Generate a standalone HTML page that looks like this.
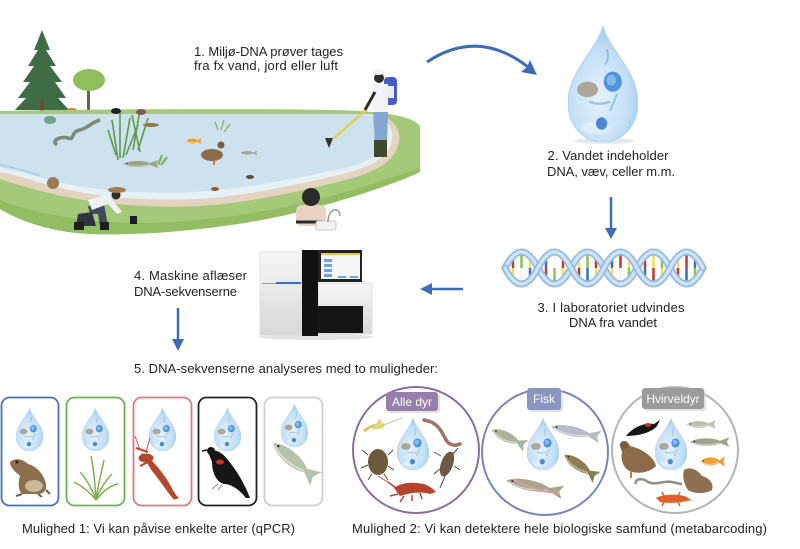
<!DOCTYPE html>
<html><head><meta charset="utf-8"><style>
html,body{margin:0;padding:0;background:#fff;}
svg{display:block;}
text{font-family:"Liberation Sans",sans-serif;fill:#222;}
</style></head><body>
<svg width="800" height="549" viewBox="0 0 800 549" xmlns="http://www.w3.org/2000/svg">
<defs>
<radialGradient id="dg" cx="0.45" cy="0.62" r="0.62"><stop offset="0" stop-color="#e4f2fc"/><stop offset="0.7" stop-color="#c2def5"/><stop offset="1" stop-color="#9ac6ec"/></radialGradient>
<linearGradient id="seqg" x1="0" y1="0" x2="0" y2="1"><stop offset="0" stop-color="#f6f6f6"/><stop offset="1" stop-color="#d8d8d8"/></linearGradient>
<symbol id="drop" viewBox="0 0 100 150" preserveAspectRatio="none">
<path d="M50,0 C56,28 100,58 100,100 A50,50 0 0 1 0,100 C0,58 44,28 50,0Z" fill="url(#dg)" stroke="#b5d6f0" stroke-width="2"/>
<ellipse cx="40" cy="132" rx="22" ry="8" fill="#fff" opacity="0.35"/>
<ellipse cx="28" cy="82" rx="15" ry="10" fill="#a89988" opacity="0.85"/>
<circle cx="64" cy="72" r="13" fill="#4f93dc"/>
<circle cx="62" cy="70" r="7" fill="#86b9ec"/>
<circle cx="48" cy="126" r="8" fill="#4a87d6"/>
<path d="M55,30 q5,10 -2,20 M30,98 q15,5 30,0 M70,88 q-5,12 -10,22" stroke="#7fb7cf" stroke-width="3" fill="none" opacity="0.7"/>
</symbol>
<symbol id="fish" viewBox="0 0 100 40" preserveAspectRatio="none">
<path d="M3,20 C18,5 55,4 74,16 L96,4 L90,20 L96,36 L74,24 C55,36 18,35 3,20Z"/>
<path d="M8,22 C25,32 55,30 72,22" stroke="#fff" stroke-width="3" fill="none" opacity="0.5"/>
<circle cx="13" cy="18" r="2" fill="#222"/>
</symbol>
</defs>

<!-- ===== POND SCENE ===== -->
<polygon points="42,30 50,50 46,50 56,66 50,66 62,82 55,82 66,98 58,98 69,110 15,110 26,98 18,98 30,82 23,82 34,66 28,66 38,50 34,50" fill="#3f6c44"/>
<rect x="40" y="100" width="4" height="12" fill="#6b4a33"/>
<rect x="87" y="86" width="3" height="24" fill="#7b5a3e"/>
<ellipse cx="89" cy="80" rx="16" ry="11" fill="#8fbe5c"/>
<ellipse cx="72" cy="110" rx="5" ry="2" fill="#d9783a"/>
<path d="M0,111 C100,109 300,108 360,111 C395,113 418,119 420,127 L420,172 C395,184 340,202 290,214 C230,228 150,236 90,234 C50,232 20,221 0,209 Z" fill="#a4c978"/>
<path d="M0,200 C40,215 100,226 170,222 C250,218 330,200 420,168 L420,172 C395,184 340,202 290,214 C230,228 150,236 90,234 C50,232 20,221 0,209 Z" fill="#93bd63"/>
<path d="M0,114 L372,114 C392,116 401,127 399,142 C396,160 378,172 345,180 C295,193 245,203 200,206 C130,209 70,200 30,188 C15,184 6,181 0,179 Z" fill="#e3d3c0"/>
<path d="M0,114 L366,114 C386,116 394,126 392,140 C390,156 374,166 343,174 C293,186 243,196 198,199 C130,202 75,194 35,181 C18,176 7,173 0,172 Z" fill="#e6f0f7"/>
<path d="M0,114 L360,114 C378,115 387,124 385,138 C383,154 368,163 340,169 C290,180 240,189 195,192 C130,195 80,189 40,177 C20,172 8,169 0,167 Z" fill="#cde1ef"/>
<path d="M0,165 C15,168 30,172 40,176" stroke="#a9cde6" stroke-width="1.5" fill="none"/>
<path d="M57,145 C50,140 62,136 68,138 C75,141 70,132 80,130 C88,128 92,122 100,120" stroke="#7d8a78" stroke-width="3.5" fill="none"/>
<ellipse cx="50" cy="120" rx="6" ry="4" fill="#6fa08a"/>
<g stroke="#5f9a4a" stroke-width="1.6" fill="none">
<path d="M118,160 L112,120 M120,158 L120,112 M123,158 L130,118 M126,155 L138,125 M133,150 L140,110 M138,150 L148,118 M140,152 L132,115 M116,155 L108,130"/>
</g>
<ellipse cx="116" cy="111" rx="5" ry="3" fill="#222"/>
<ellipse cx="141" cy="112" rx="5" ry="3" fill="#7a5a45"/>
<ellipse cx="151" cy="125" rx="8" ry="2" fill="#8a7a50"/>
<use href="#fish" x="122" y="159" width="38" height="10" fill="#9aa488"/>
<path d="M158,165 l4,-10 M161,165 l6,-8" stroke="#7fb04f" stroke-width="2"/>
<use href="#fish" x="186" y="137" width="16" height="8" fill="#f0a030"/>
<path d="M218,130 l-3,-8 M221,130 l3,-10 M224,132 l6,-8" stroke="#7fb04f" stroke-width="1.2"/>
<ellipse cx="212" cy="155" rx="11" ry="6" fill="#8b6b4a"/>
<circle cx="221" cy="145" r="3.5" fill="#7a5a3c"/>
<rect x="213" y="160" width="2" height="5" fill="#d8782e"/>
<use href="#fish" x="240" y="150" width="18" height="6" fill="#a2a89a"/>
<ellipse cx="53" cy="183" rx="6" ry="6" fill="#9a7a55"/>
<ellipse cx="250" cy="177" rx="4" ry="2" fill="#5a4a3a"/>
<ellipse cx="215" cy="189" rx="4" ry="2" fill="#8a5a3a"/>
<!-- sampler person -->
<path d="M366,110 L334,138" stroke="#e3d23a" stroke-width="2.2"/>
<path d="M325,138 L333,138 L329,148 Z" fill="#333"/>
<rect x="384" y="77" width="13" height="28" rx="4" fill="#4a5cc8"/>
<rect x="387" y="86" width="7" height="12" fill="#e8eef8"/>
<path d="M372,84 L388,84 L388,113 L373,113 Z" fill="#f1f3f6"/>
<path d="M373,112 L388,112 L387,145 L375,145 Z" fill="#86a7d6"/>
<rect x="374" y="140" width="13" height="17" fill="#3d4a2e"/>
<circle cx="379" cy="78" r="5" fill="#2d2d2d"/>
<ellipse cx="378" cy="72" rx="6" ry="3" fill="#eef3f8"/>
<path d="M375,92 L365,110" stroke="#2d2d2d" stroke-width="3"/>
<!-- kneeling person -->
<path d="M88,206 L104,204 L108,226 L100,226 L98,214 L90,214 Z" fill="#3d4a5c"/>
<path d="M78,214 L92,212 L96,226 L76,226 Z" fill="#2f3540"/>
<rect x="74" y="222" width="10" height="8" fill="#1e1e1e"/>
<rect x="100" y="222" width="9" height="8" fill="#1e1e1e"/>
<path d="M88,200 L108,194 L122,212 L117,214 L108,204 L92,210 Z" fill="#eef0f3"/>
<circle cx="116" cy="195" r="4.5" fill="#2d2d2d"/>
<ellipse cx="117" cy="190" rx="9" ry="3" fill="#a57b54"/>
<rect x="130" y="216" width="7" height="8" fill="#1e1e1e"/>
<!-- kid -->
<rect x="296" y="205" width="30" height="21" rx="6" fill="#e8d3c3"/>
<circle cx="311" cy="197" r="9" fill="#2a2a2a"/>
<path d="M296,222 L322,222" stroke="#2a2a2a" stroke-width="3"/>
<rect x="316" y="221" width="20" height="9" rx="2" fill="#f2f2f2" stroke="#bbb" stroke-width="0.8"/>
<path d="M328,222 C328,208 340,206 340,216" stroke="#999" stroke-width="1.5" fill="none"/>

<text x="194" y="56" font-size="13" textLength="149">1. Miljø-DNA prøver tages</text>
<text x="194" y="70" font-size="13" textLength="144">fra fx vand, jord eller luft</text>

<path d="M427,62 Q478,28 528,67" stroke="#3e6cb7" stroke-width="3" fill="none"/>
<polygon points="537,75 521,72 527,67 530,60" fill="#3e6cb7"/>

<ellipse cx="604" cy="141" rx="30" ry="3" fill="#d8dde2" opacity="0.7"/>
<use href="#drop" x="568" y="26" width="70" height="116"/>
<text x="608" y="160" font-size="13" text-anchor="middle" textLength="121">2. Vandet indeholder</text>
<text x="611" y="176" font-size="13" text-anchor="middle" textLength="128">DNA, væv, celler m.m.</text>

<line x1="611" y1="197" x2="611" y2="230" stroke="#3e6cb7" stroke-width="2.5"/>
<polygon points="605,228 617,228 611,239" fill="#3e6cb7"/>

<g stroke-width="2.5">
<line x1="513" y1="259" x2="513" y2="268" stroke="#c0392b"/><line x1="513" y1="268" x2="513" y2="277" stroke="#efe05a"/>
<line x1="521.5" y1="255" x2="521.5" y2="268" stroke="#8bc34a"/><line x1="521.5" y1="268" x2="521.5" y2="281" stroke="#f5f5f5"/>
<line x1="530" y1="259" x2="530" y2="268" stroke="#efe05a"/><line x1="530" y1="268" x2="530" y2="277" stroke="#3b6fb5"/>
<line x1="546" y1="259" x2="546" y2="268" stroke="#3b6fb5"/><line x1="546" y1="268" x2="546" y2="277" stroke="#c0392b"/>
<line x1="554.5" y1="255" x2="554.5" y2="268" stroke="#f5f5f5"/><line x1="554.5" y1="268" x2="554.5" y2="281" stroke="#8bc34a"/>
<line x1="563" y1="259" x2="563" y2="268" stroke="#c0392b"/><line x1="563" y1="268" x2="563" y2="277" stroke="#efe05a"/>
<line x1="579" y1="259" x2="579" y2="268" stroke="#efe05a"/><line x1="579" y1="268" x2="579" y2="277" stroke="#c0392b"/>
<line x1="587.5" y1="255" x2="587.5" y2="268" stroke="#8bc34a"/><line x1="587.5" y1="268" x2="587.5" y2="281" stroke="#3b6fb5"/>
<line x1="596" y1="259" x2="596" y2="268" stroke="#c0392b"/><line x1="596" y1="268" x2="596" y2="277" stroke="#efe05a"/>
<line x1="612" y1="259" x2="612" y2="268" stroke="#3b6fb5"/><line x1="612" y1="268" x2="612" y2="277" stroke="#efe05a"/>
<line x1="620.5" y1="255" x2="620.5" y2="268" stroke="#c0392b"/><line x1="620.5" y1="268" x2="620.5" y2="281" stroke="#f5f5f5"/>
<line x1="629" y1="259" x2="629" y2="268" stroke="#efe05a"/><line x1="629" y1="268" x2="629" y2="277" stroke="#8bc34a"/>
<line x1="645" y1="259" x2="645" y2="268" stroke="#c0392b"/><line x1="645" y1="268" x2="645" y2="277" stroke="#3b6fb5"/>
<line x1="653.5" y1="255" x2="653.5" y2="268" stroke="#efe05a"/><line x1="653.5" y1="268" x2="653.5" y2="281" stroke="#c0392b"/>
<line x1="662" y1="259" x2="662" y2="268" stroke="#8bc34a"/><line x1="662" y1="268" x2="662" y2="277" stroke="#efe05a"/>
<line x1="678" y1="259" x2="678" y2="268" stroke="#efe05a"/><line x1="678" y1="268" x2="678" y2="277" stroke="#c0392b"/>
<line x1="686.5" y1="255" x2="686.5" y2="268" stroke="#c0392b"/><line x1="686.5" y1="268" x2="686.5" y2="281" stroke="#3b6fb5"/>
<line x1="695" y1="259" x2="695" y2="268" stroke="#3b6fb5"/><line x1="695" y1="268" x2="695" y2="277" stroke="#8bc34a"/>
</g>
<g fill="none" stroke-linecap="round">
<path d="M505,268 q16.5,-32 33,0 t33,0 t33,0 t33,0 t33,0 t33,0" stroke="#93bbe2" stroke-width="7"/>
<path d="M505,268 q16.5,-32 33,0 t33,0 t33,0 t33,0 t33,0 t33,0" stroke="#cfe3f5" stroke-width="3.5"/>
<path d="M505,268 q16.5,32 33,0 t33,0 t33,0 t33,0 t33,0 t33,0" stroke="#93bbe2" stroke-width="7"/>
<path d="M505,268 q16.5,32 33,0 t33,0 t33,0 t33,0 t33,0 t33,0" stroke="#cfe3f5" stroke-width="3.5"/>
</g>
<text x="611" y="312" font-size="13" text-anchor="middle" textLength="147">3. I laboratoriet udvindes</text>
<text x="613" y="327" font-size="13" text-anchor="middle" textLength="88">DNA fra vandet</text>

<line x1="463" y1="289" x2="430" y2="289" stroke="#3e6cb7" stroke-width="2.5"/>
<polygon points="432,283 432,295 420,289" fill="#3e6cb7"/>

<ellipse cx="316" cy="337" rx="58" ry="3" fill="#e3e3e3"/>
<rect x="260" y="252" width="42" height="83" fill="url(#seqg)" stroke="#dcdcdc" stroke-width="0.8"/>
<rect x="276" y="282" width="25" height="2" fill="#3a6fc9"/>
<rect x="262" y="283" width="14" height="1" fill="#999"/>
<rect x="318" y="283" width="54" height="51" fill="url(#seqg)" stroke="#dcdcdc" stroke-width="0.8"/>
<rect x="318" y="306" width="45" height="27" fill="#151515"/>
<rect x="302" y="250" width="16" height="86" fill="#111"/>
<rect x="318" y="250" width="44" height="32" fill="#222"/>
<rect x="321" y="253" width="39" height="26" fill="#f6f6f6"/>
<rect x="321" y="253" width="39" height="2" fill="#e8c84a"/>
<rect x="324" y="259" width="8" height="3" fill="#6fa0e0"/>
<rect x="324" y="264" width="8" height="3" fill="#6fa0e0"/>
<rect x="324" y="269" width="8" height="3" fill="#6fa0e0"/>
<rect x="324" y="274" width="8" height="3" fill="#6fa0e0"/>
<rect x="338" y="276" width="8" height="2" fill="#6fa0e0"/>
<rect x="350" y="276" width="8" height="2" fill="#6fa0e0"/>

<text x="134" y="280" font-size="13" textLength="113">4. Maskine aflæser</text>
<text x="134" y="296" font-size="13" textLength="103">DNA-sekvenserne</text>
<line x1="178" y1="308" x2="178" y2="341" stroke="#3e6cb7" stroke-width="2.5"/>
<polygon points="172,339 184,339 178,351" fill="#3e6cb7"/>
<text x="134" y="373" font-size="13" textLength="304">5. DNA-sekvenserne analyseres med to muligheder:</text>

<rect x="1.5" y="397.5" width="57" height="108" rx="8" fill="#fff" stroke="#4a6fc2" stroke-width="1.8"/>
<rect x="66.5" y="397.5" width="58" height="108" rx="8" fill="#fff" stroke="#6bb150" stroke-width="1.8"/>
<rect x="133.5" y="397.5" width="58" height="108" rx="8" fill="#fff" stroke="#df7a7c" stroke-width="1.8"/>
<rect x="198.5" y="397.5" width="58" height="108" rx="8" fill="#fff" stroke="#222" stroke-width="1.8"/>
<rect x="264.5" y="397.5" width="58" height="108" rx="8" fill="#fff" stroke="#cfcfcf" stroke-width="1.8"/>
<use href="#drop" x="16" y="408" width="27" height="43"/>
<use href="#drop" x="82" y="408" width="27" height="43"/>
<use href="#drop" x="149" y="408" width="27" height="43"/>
<use href="#drop" x="214" y="408" width="27" height="43"/>
<use href="#drop" x="281" y="404" width="27" height="43"/>
<!-- frog -->
<path d="M10,462 C14,458 22,458 28,464 C36,466 44,474 46,484 C47,490 44,494 38,494 L22,494 C18,490 18,482 20,476 C16,472 10,468 10,462Z" fill="#8d6e4d"/>
<ellipse cx="34" cy="486" rx="9" ry="6" fill="#c9b89a"/>
<path d="M22,494 L16,496 M38,494 L42,497 M46,490 L50,494" stroke="#7a5c3e" stroke-width="2"/>
<circle cx="17" cy="462" r="1.5" fill="#222"/>
<g stroke="#7fb04f" stroke-width="1.5" fill="none">
<path d="M96,500 C95,485 94,470 91,456 M96,500 C98,485 102,470 104,460 M96,500 C88,490 80,485 74,482 M96,500 C104,490 112,485 118,484 M96,500 C92,488 84,476 80,472 M96,500 C100,488 108,478 112,474"/>
</g>
<g stroke="#b5452b" fill="#b5452b">
<path d="M142,454 C150,458 160,470 168,482 C172,490 176,496 178,498 L174,499 C168,492 160,480 152,470 Z"/>
<ellipse cx="146" cy="458" rx="7" ry="4"/>
<path d="M148,452 L136,448 M152,460 L140,466" stroke-width="2" fill="none"/>
<path d="M140,450 L135,436 M146,452 L150,438" stroke-width="0.8" fill="none"/>
</g>
<path d="M208,452 C214,448 222,452 228,460 C236,470 244,482 250,498 L246,498 C238,488 230,484 224,484 C216,482 212,472 212,462 Z" fill="#161616"/>
<circle cx="211" cy="451" r="4" fill="#161616"/>
<path d="M207,450 L202,451" stroke="#161616" stroke-width="1.5"/>
<ellipse cx="220" cy="462" rx="4" ry="2.5" fill="#d0302a"/>
<path d="M218,484 L212,489 M222,485 L218,490" stroke="#888" stroke-width="1"/>
<use href="#fish" x="264" y="450" width="60" height="22" fill="#b7c2ae" transform="rotate(40 294 462)"/>
<text x="22" y="533" font-size="13" textLength="273">Mulighed 1: Vi kan påvise enkelte arter (qPCR)</text>

<circle cx="416" cy="450" r="63" fill="#fff" stroke="#8a6d9c" stroke-width="2"/>
<circle cx="545" cy="452" r="63" fill="#fff" stroke="#7585bb" stroke-width="2"/>
<circle cx="675" cy="450" r="63" fill="#fff" stroke="#b3b3b3" stroke-width="2"/>
<rect x="388" y="394" width="52" height="19" rx="3" fill="#cfcfcf" opacity="0.6"/>
<rect x="386" y="392" width="52" height="19" rx="3" fill="#9580aa"/>
<text x="412" y="406" font-size="12" text-anchor="middle" style="fill:#fff">Alle dyr</text>
<rect x="529" y="390" width="34" height="22" rx="3" fill="#cfcfcf" opacity="0.6"/>
<rect x="527" y="388" width="34" height="22" rx="3" fill="#8896c0"/>
<text x="544" y="403" font-size="12" text-anchor="middle" style="fill:#fff">Fisk</text>
<rect x="644" y="390" width="62" height="21" rx="3" fill="#cfcfcf" opacity="0.6"/>
<rect x="642" y="388" width="62" height="21" rx="3" fill="#9b9b9b"/>
<text x="673" y="403" font-size="12" text-anchor="middle" style="fill:#fff">Hvirveldyr</text>
<use href="#drop" x="397" y="418" width="32" height="52"/>
<use href="#drop" x="527" y="418" width="32" height="52"/>
<use href="#drop" x="655" y="418" width="32" height="52"/>
<path d="M364,431 C370,426 378,424 384,425" stroke="#d9c766" stroke-width="3" fill="none"/>
<path d="M372,430 L380,418 L384,428 Z" fill="#e2d77a"/>
<path d="M384,425 L402,418" stroke="#c8b870" stroke-width="0.8"/>
<path d="M424,420 C438,422 442,432 446,440 C450,446 456,446 460,444" stroke="#a27264" stroke-width="3.5" fill="none" stroke-linecap="round"/>
<ellipse cx="378" cy="462" rx="10" ry="13" fill="#6b5a3c"/>
<path d="M368,455 L362,450 M368,465 L361,468 M388,455 L393,450 M388,466 L394,470 M372,474 L368,480 M384,474 L388,480" stroke="#5a4a32" stroke-width="1"/>
<ellipse cx="447" cy="464" rx="6" ry="13" fill="#6c5a44" transform="rotate(20 447 464)"/>
<path d="M441,456 L434,452 M453,454 L458,448 M441,468 L434,474 M454,466 L460,470 M445,476 L440,488" stroke="#5a4a36" stroke-width="1"/>
<path d="M394,488 C402,482 414,482 424,484 C430,486 434,490 436,492 L430,494 C420,491 410,493 400,496 Z" fill="#b8432c"/>
<path d="M396,488 L388,482 M398,494 L390,496 M404,496 L400,502 M412,495 L412,501 M420,493 L422,499" stroke="#b8432c" stroke-width="1.5"/>
<path d="M394,486 L378,476" stroke="#b8432c" stroke-width="0.8"/>
<use href="#fish" x="489" y="430" width="40" height="16" fill="#a9b59a" transform="rotate(25 509 438)"/>
<use href="#fish" x="549" y="424" width="54" height="16" fill="#b7bcc4" transform="rotate(12 576 432)"/>
<use href="#fish" x="560" y="458" width="42" height="17" fill="#8d7c4f" transform="rotate(35 581 466)"/>
<use href="#fish" x="504" y="478" width="62" height="17" fill="#a6a88e" transform="rotate(12 535 486)"/>
<path d="M512,484 C530,490 548,490 560,488" stroke="#d8a0a8" stroke-width="2" fill="none" transform="rotate(12 535 486)"/>
<path d="M626,436 C632,428 644,422 654,424 L660,420 L657,426 C652,432 640,436 626,436Z" fill="#161616"/>
<ellipse cx="648" cy="425" rx="3" ry="2" fill="#d0302a"/>
<use href="#fish" x="686" y="419" width="31" height="11" fill="#b9c2b0"/>
<use href="#fish" x="689" y="436" width="42" height="12" fill="#9aa68a"/>
<use href="#fish" x="700" y="455" width="26" height="13" fill="#f0a030"/>
<path d="M620,446 C620,440 628,440 630,446 C640,448 654,456 656,466 C650,472 640,474 632,472 C624,470 620,460 622,452 Z" fill="#8b6b4a"/>
<circle cx="624" cy="445" r="4" fill="#7a5a3c"/>
<rect x="630" y="472" width="2" height="6" fill="#d8782e"/>
<path d="M636,484 C634,478 644,478 648,482 C656,486 664,480 672,482 C676,483 680,484 682,484" stroke="#8c9088" stroke-width="2.5" fill="none"/>
<path d="M684,470 C690,466 698,470 702,476 C710,478 714,484 712,490 C706,494 694,494 688,490 C684,484 682,476 684,470Z" fill="#8e7050"/>
<path d="M656,498 C664,494 676,494 684,496 C688,497 690,500 692,500 C684,502 670,504 660,502Z" fill="#e0602a"/>
<path d="M664,496 L662,492 M664,502 L662,506 M678,496 L680,492 M678,502 L680,506" stroke="#e0602a" stroke-width="1.5"/>
<text x="352" y="533" font-size="13" textLength="415">Mulighed 2: Vi kan detektere hele biologiske samfund (metabarcoding)</text>
</svg>
</body></html>
